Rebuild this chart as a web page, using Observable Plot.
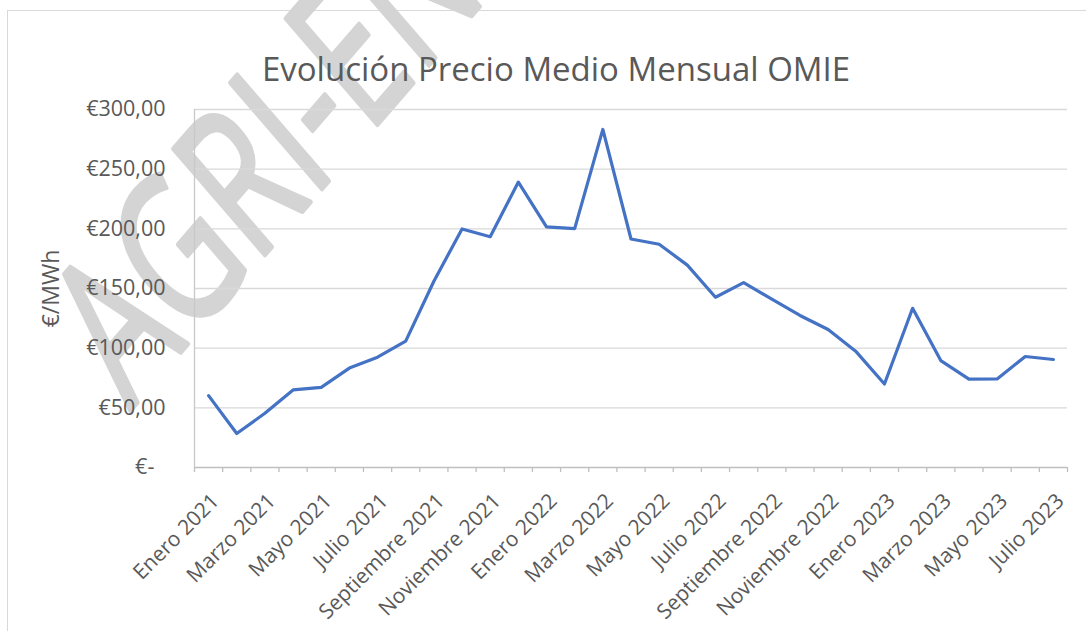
<!DOCTYPE html>
<html><head><meta charset="utf-8">
<script src="https://cdn.jsdelivr.net/npm/d3@7"></script>
<script src="https://cdn.jsdelivr.net/npm/@observablehq/plot@0.6"></script>
<style>
html,body{margin:0;padding:0;background:#fff;}
body{width:1086px;height:631px;overflow:hidden;position:relative;font-family:"Open Sans",sans-serif;}
#frame{position:absolute;left:7px;top:10px;width:1200px;height:800px;border:1.5px solid #d9d9d9;}
#wm{position:absolute;left:0;top:0;}
#chart{position:absolute;left:0;top:0;}
</style></head><body>
<div id="frame"></div>
<svg id="wm" width="1086" height="631"></svg>
<div id="chart"></div>
<script>
const titleText = "Evolución Precio Medio Mensual OMIE";
const yLabel = "€/MWh";
const watermark = "AGRI-EN";
const months = ["Enero 2021","Febrero 2021","Marzo 2021","Abril 2021","Mayo 2021","Junio 2021","Julio 2021","Agosto 2021","Septiembre 2021","Octubre 2021","Noviembre 2021","Diciembre 2021",
"Enero 2022","Febrero 2022","Marzo 2022","Abril 2022","Mayo 2022","Junio 2022","Julio 2022","Agosto 2022","Septiembre 2022","Octubre 2022","Noviembre 2022","Diciembre 2022",
"Enero 2023","Febrero 2023","Marzo 2023","Abril 2023","Mayo 2023","Junio 2023","Julio 2023"];
const prices = [60.2,28.5,45.4,65.0,67.1,83.3,92.4,105.9,156.1,199.9,193.4,239.2,
201.7,200.2,283.3,191.5,187.1,169.6,142.7,154.9,141.1,127.4,115.6,96.9,
70.0,133.4,89.6,74.0,74.2,93.0,90.5];
const yTicks = [0,50,100,150,200,250,300];
const labelEvery = 2;

// watermark (background decoration)
const wm = d3.select("#wm");
wm.append("text")
  .attr("transform","translate(130,411) scale(0.864,1) rotate(-45) scale(0.72,1)")
  .attr("font-family","Open Sans").attr("font-size",210)
  .attr("fill","#d4d4d4").attr("stroke","#d4d4d4").attr("stroke-width",5)
  .attr("stroke-linejoin","round")
  .text(watermark);

const data = months.map((m,i)=>({i, m, v: prices[i]}));
const idx = months.map((m,i)=>i);
const boundaries = months.map((m,i)=>i-0.5).concat([months.length-0.5]);
const labelIdx = idx.filter(i => i % labelEvery === 0);
const fmtEuro = v => v === 0 ? "€-\u00a0\u00a0" : "€" + d3.format(".2f")(v).replace(".", ",");

const chart = Plot.plot({
  width:1086, height:631,
  marginLeft:194, marginRight:19, marginTop:109, marginBottom:164,
  style:{background:"transparent", fontFamily:"Open Sans", color:"#595959", overflow:"visible"},
  x:{domain:[-0.5, months.length-0.5], axis:null},
  y:{domain:[0,300], axis:null},
  marks:[
    Plot.gridY(yTicks.filter(d=>d>0), {stroke:"#d9d9d9", strokeOpacity:1, strokeWidth:1.3}),
    Plot.ruleX([-0.5], {stroke:"#c8c8c8", strokeWidth:1.3}),
    Plot.axisX({ticks: boundaries, tickSize:5, stroke:"#bfbfbf", strokeWidth:1.3, tickFormat:() => "", label:null}),
    Plot.ruleY([0], {stroke:"#bfbfbf", strokeWidth:1.5}),
    Plot.axisX({ticks: labelIdx, tickSize:0, tickPadding:30, dx:7, tickRotate:-45, tickFormat: i => months[i], fontSize:21, fill:"#595959", label:null}),
    Plot.axisY({ticks: yTicks, tickSize:0, tickPadding:29, tickFormat: fmtEuro, fontSize:21.5, fill:"#595959", label:null}),
    Plot.line(data, {x:"i", y:"v", stroke:"#4472c4", strokeWidth:3.2, strokeLinejoin:"round", strokeLinecap:"round"}),
    Plot.text([titleText], {frameAnchor:"top", dx:-75, dy:-52, fontSize:33, fill:"#595959"}),
    Plot.text([yLabel], {frameAnchor:"left", textAnchor:"middle", dx:-143, rotate:-90, fontSize:23, fill:"#595959"})
  ]
});
document.getElementById("chart").appendChild(chart);
</script>
</body></html>
